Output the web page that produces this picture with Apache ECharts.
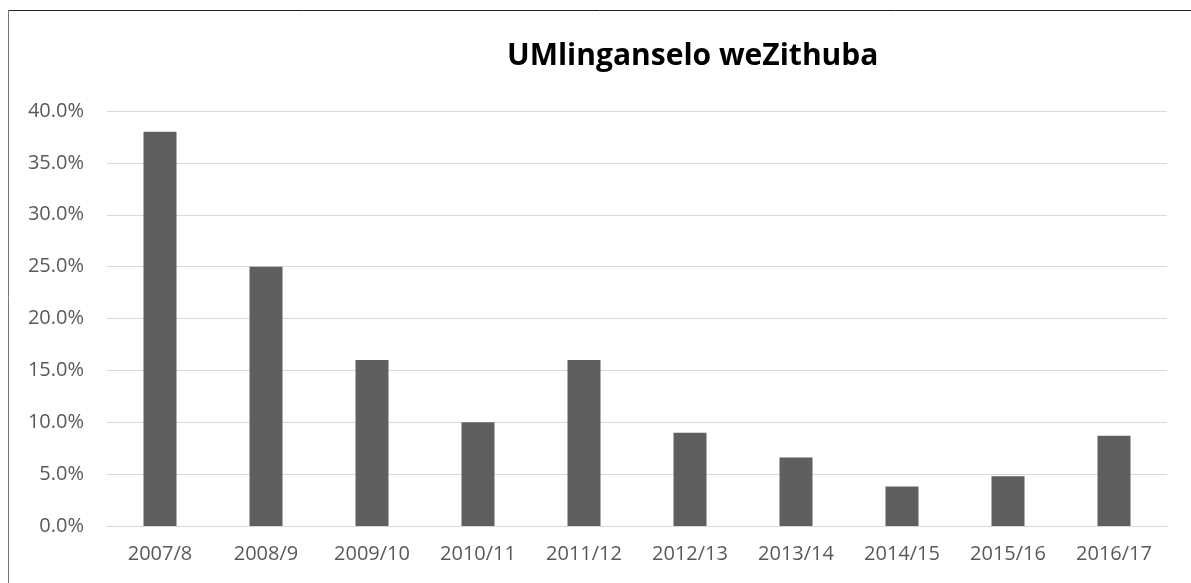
<!DOCTYPE html>
<html>
<head>
<meta charset="utf-8">
<style>
	html, body { margin: 0; padding: 0; background: #fff; }
	#main { width: 1191px; height: 583px; }
</style>
<script src="https://cdn.jsdelivr.net/npm/echarts@6/dist/echarts.min.js"></script>
</head>
<body>
<div id="main"></div>
<script type="text/javascript">
// 数据
var years = ['2007/8', '2008/9', '2009/10', '2010/11', '2011/12', '2012/13', '2013/14', '2014/15', '2015/16', '2016/17'];
var rates = [38.0, 25.0, 16.0, 10.0, 16.0, 9.0, 6.6, 3.8, 4.8, 8.7];
var yTicks = { min: 0, max: 40, step: 5 };

var myChart = echarts.init(document.getElementById('main'));

var option = {
	animation: false,
	backgroundColor: '#fff',
	title: {
		text: 'UMlinganselo weZithuba',
		left: 502,
		top: 36,
		textStyle: {
			fontFamily: 'Open Sans',
			fontSize: 30,
			fontWeight: 'bold',
			color: '#000'
		}
	},
	grid: {
		left: 107,
		right: 24,
		top: 111,
		bottom: 57
	},
	xAxis: {
		type: 'category',
		data: years,
		axisLine: { lineStyle: { color: '#d9d9d9', width: 1 } },
		axisTick: { show: false },
		axisLabel: {
			margin: 18,
			fontFamily: 'Open Sans',
			fontSize: 20,
			color: '#595959'
		}
	},
	yAxis: {
		type: 'value',
		min: yTicks.min,
		max: yTicks.max,
		interval: yTicks.step,
		axisLine: { show: false },
		axisTick: { show: false },
		splitLine: { lineStyle: { color: '#d9d9d9', width: 1 } },
		axisLabel: {
			margin: 23,
			fontFamily: 'Open Sans',
			fontSize: 20,
			color: '#595959',
			formatter: function (v) { return v.toFixed(1) + '%'; }
		}
	},
	series: [
		{
			type: 'bar',
			data: rates,
			barWidth: 33,
			itemStyle: { color: '#5f5f5f' }
		}
	],
	graphic: [
		{ type: 'line', shape: { x1: 8, y1: 10.5, x2: 1191, y2: 10.5 }, style: { stroke: '#222', lineWidth: 1 } },
		{ type: 'line', shape: { x1: 8.5, y1: 10, x2: 8.5, y2: 583 }, style: { stroke: '#777', lineWidth: 1 } }
	]
};
myChart.setOption(option);
</script>
</body>
</html>
